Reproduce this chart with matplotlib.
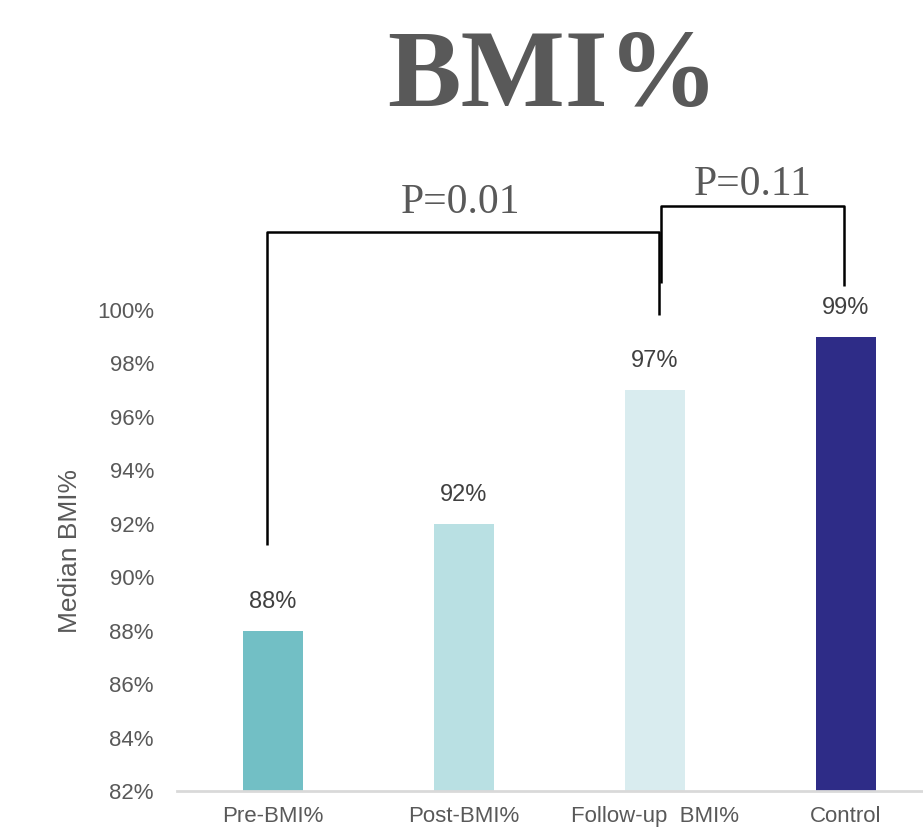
import matplotlib
matplotlib.use('Agg')
import matplotlib.pyplot as plt

# Median BMI% per group
groups = ['Pre-BMI%', 'Post-BMI%', 'Follow-up  BMI%', 'Control']
medians = [88, 92, 97, 99]
bar_colors = ['#72BFC5', '#B9E0E3', '#D9ECEF', '#2E2C87']
y_ticks = [82, 84, 86, 88, 90, 92, 94, 96, 98, 100]
p_labels = ['P=0.01', 'P=0.11']

grey = '#595959'
plt.rcParams['font.family'] = ['Liberation Sans', 'DejaVu Sans']

fig = plt.figure(figsize=(9.23, 8.39), dpi=100)
ax = fig.add_axes([0.1923, 0.0572, 0.8277, 0.5733])

x = list(range(len(groups)))
ax.bar(x, medians, width=0.31, color=bar_colors, bottom=0)
ax.set_xlim(-0.5, len(groups) - 0.5)
ax.set_ylim(82, 100)

for xi, v in zip(x, medians):
    ax.text(xi, v + 0.68, f'{v}%', ha='center', va='bottom', fontsize=17, color='#404040')

ax.set_yticks(y_ticks)
ax.set_yticklabels([f'{t}%' for t in y_ticks])
ax.set_xticks(x)
ax.set_xticklabels(groups)
ax.tick_params(axis='both', length=0, labelsize=16, labelcolor=grey)
ax.tick_params(axis='y', pad=17)
ax.tick_params(axis='x', pad=11)
ax.set_ylabel('Median BMI%', fontsize=19, color=grey)
ax.yaxis.set_label_coords(-0.125, 0.5)

for side in ['top', 'right', 'left']:
    ax.spines[side].set_visible(False)
ax.spines['bottom'].set_color('#D9D9D9')
ax.spines['bottom'].set_linewidth(2)

# significance brackets
lw = 1.8
ax.plot([-0.03, -0.03, 2.02, 2.02], [91.2, 102.92, 102.92, 99.8],
        color='black', lw=lw, clip_on=False, solid_capstyle='butt')
ax.plot([2.03, 2.03, 2.99, 2.99], [101.0, 103.9, 103.9, 100.9],
        color='black', lw=lw, clip_on=False, solid_capstyle='butt')
ax.text(0.98, 103.3, p_labels[0], ha='center', va='bottom', fontsize=30,
        color=grey, family='Liberation Serif')
ax.text(2.51, 103.95, p_labels[1], ha='center', va='bottom', fontsize=30,
        color=grey, family='Liberation Serif')

fig.text(0.599, 0.906, 'BMI%', ha='center', va='center', fontsize=79.5,
         fontweight='bold', color=grey, family='Liberation Serif')

fig.savefig('out.png', dpi=100)
